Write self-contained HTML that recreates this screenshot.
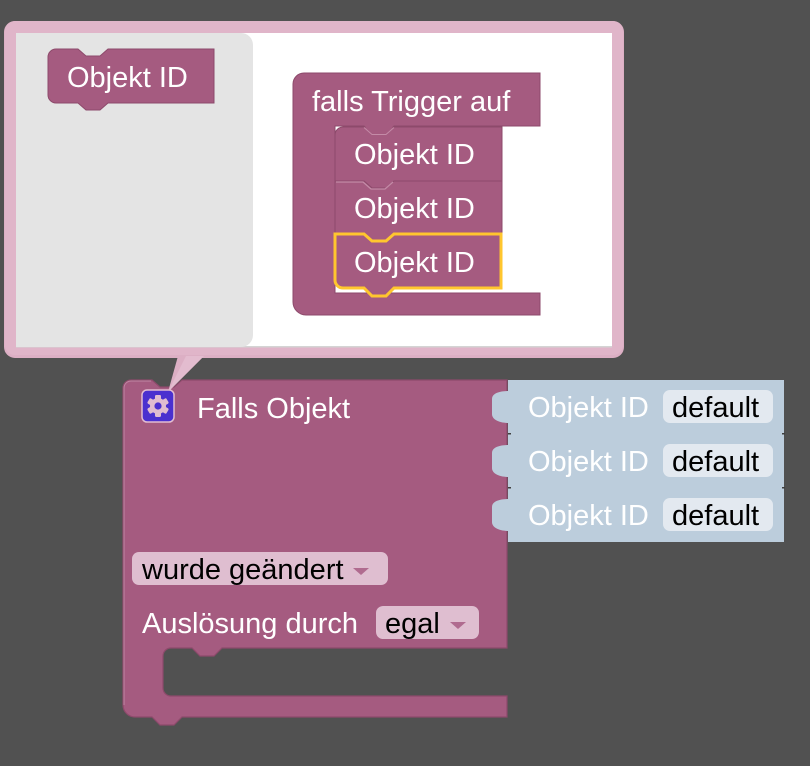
<!DOCTYPE html>
<html><head><meta charset="utf-8"><style>
html,body{margin:0;padding:0;background:#515151;}
svg{display:block;}
text{font-family:"Liberation Sans",Arial,sans-serif;font-size:29px;}
</style></head><body>
<svg width="810" height="766" viewBox="0 0 810 766" xmlns="http://www.w3.org/2000/svg">
<rect x="0" y="0" width="810" height="766" fill="#515151"/>
<!-- bubble -->
<rect x="4" y="21" width="620" height="337" rx="11" fill="#dcafc4"/>
<rect x="5" y="21" width="618" height="334" rx="10" fill="#e0b5c9"/>
<rect x="16" y="33" width="596" height="314" fill="#ffffff"/>
<rect x="16" y="346" width="596" height="1.5" fill="#d4d4d4"/>
<path d="M16,33 H241 a12,12 0 0 1 12,12 V335 a12,12 0 0 1 -12,12 H16 Z" fill="#e4e4e4"/>
<!-- flyout block -->
<path d="M48,57 a8,8 0 0 1 8,-8 H78 l8,7 h14 l8,-7 H214 V103 H108 l-8,7 h-14 l-8,-7 H56 a8,8 0 0 1 -8,-8 Z" fill="#a55b80" stroke="#8d4a6b" stroke-width="1"/>
<text x="67" y="87" fill="#fff">Objekt ID</text>
<!-- falls Trigger auf -->
<path d="M293,84 a11,11 0 0 1 11,-11 H540 V126 H394 l-8,8 h-14 l-8,-8 H335 V293 H540 V315 H306 a13,13 0 0 1 -13,-13 Z" fill="#a55b80" stroke="#8d4a6b" stroke-width="1"/>
<text x="312" y="111" fill="#fff">falls Trigger auf</text>
<path d="M335,135 a8,8 0 0 1 8,-8 H364 l8,7 h14 l8,-7 H502 V181 H394 l-8,7 h-14 l-8,-7 H335 Z" fill="#a55b80" stroke="#8d4a6b" stroke-width="1"/>
<path d="M364,127.5 l8,7 h14 l8,-7" fill="#a55b80" stroke="#c48ba7" stroke-width="1"/>
<text x="354" y="164" fill="#fff">Objekt ID</text>
<path d="M335,181 H364 l8,7 h14 l8,-7 H502 V234 H394 l-8,7 h-14 l-8,-7 H335 Z" fill="#a55b80" stroke="#8d4a6b" stroke-width="1"/>
<path d="M336,182 H363 l8,7 h14 l8,-7" fill="none" stroke="#c48ba7" stroke-width="1.2"/>
<text x="354" y="218" fill="#fff">Objekt ID</text>
<path d="M335,234 H364 l8,7 h14 l8,-7 H501 V288 H394 l-8,8 h-14 l-8,-8 H343 a8,8 0 0 1 -8,-8 Z" fill="#a55b80" stroke="#ffc62e" stroke-width="3"/>
<text x="354" y="272" fill="#fff">Objekt ID</text>
<!-- main block -->
<path d="M123,388 a8,8 0 0 1 8,-8 H152 l8,7 h14 l8,-7 H507 V648 H222 l-8,8 h-14 l-8,-8 H171 a8,8 0 0 0 -8,8 V688 a8,8 0 0 0 8,8 H507 V717 H182 l-8,8 h-14 l-8,-8 H135 a12,12 0 0 1 -12,-12 Z" fill="#a55b80" stroke="#8d4a6b" stroke-width="1.2"/>
<path d="M124,705 V388 a7,7 0 0 1 7,-7 H151" fill="none" stroke="#bf87a3" stroke-width="1"/>
<!-- tail -->
<polygon points="178,356 204,356 168,392" fill="#dcafc4"/>
<polygon points="186,356 204,356 168,392" fill="#e3bccf"/>
<!-- gear -->
<rect x="142" y="390" width="32" height="32" rx="5" fill="#4a30cf" stroke="#e2bcd0" stroke-width="1.5"/>
<g transform="translate(158,406)" fill="#e0bcd0">
<circle r="8"/>
<rect x="-3" y="-11" width="6" height="22" rx="1.2"/>
<rect x="-3" y="-11" width="6" height="22" rx="1.2" transform="rotate(60)"/>
<rect x="-3" y="-11" width="6" height="22" rx="1.2" transform="rotate(120)"/>
<circle r="3.6" fill="#4a30cf"/>
</g>
<text x="197" y="418" fill="#fff">Falls Objekt</text>
<!-- blue inputs -->
<g fill="#bccddc">
<rect x="508" y="380" width="276" height="54"/>
<rect x="508" y="434" width="276" height="54"/>
<rect x="508" y="488" width="276" height="54"/>
<path d="M509,391 C500,391 492,393 492,399 V414 C492,420 500,423 509,423 Z"/>
<path d="M509,445 C500,445 492,447 492,453 V468 C492,474 500,477 509,477 Z"/>
<path d="M509,499 C500,499 492,501 492,507 V522 C492,528 500,531 509,531 Z"/>
</g>
<g fill="#3f3f3f">
<rect x="508" y="433" width="3" height="1.5"/><rect x="508" y="487" width="3" height="1.5"/>
<rect x="782" y="433" width="3" height="1.5"/><rect x="782" y="487" width="3" height="1.5"/>
</g>
<g fill="#e3e9f0">
<rect x="663" y="390" width="110" height="33" rx="7"/>
<rect x="663" y="444" width="110" height="33" rx="7"/>
<rect x="663" y="498" width="110" height="33" rx="7"/>
</g>
<text x="528" y="417" fill="#fff">Objekt ID</text>
<text x="528" y="471" fill="#fff">Objekt ID</text>
<text x="528" y="525" fill="#fff">Objekt ID</text>
<text x="672" y="417" fill="#000">default</text>
<text x="672" y="471" fill="#000">default</text>
<text x="672" y="525" fill="#000">default</text>
<!-- dropdowns -->
<rect x="132" y="552" width="256" height="33" rx="7" fill="#dfbed0"/>
<text x="142" y="579" fill="#000">wurde geändert</text>
<polygon points="353,568 369,568 361,575" fill="#b06b8f"/>
<text x="142" y="633" fill="#fff">Auslösung durch</text>
<rect x="376" y="606" width="103" height="33" rx="7" fill="#dfbed0"/>
<text x="385" y="633" fill="#000">egal</text>
<polygon points="450,622 466,622 458,629" fill="#b06b8f"/>
</svg>
</body></html>
